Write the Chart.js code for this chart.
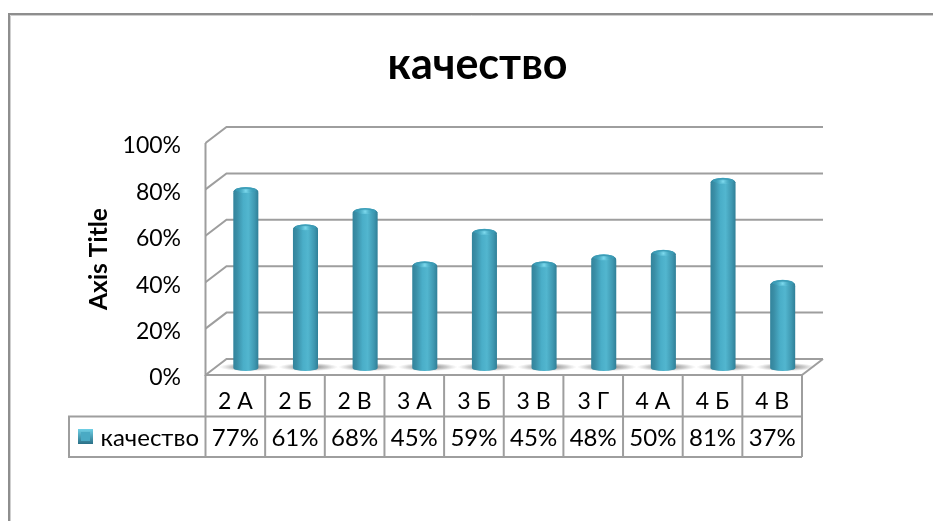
<!DOCTYPE html>
<html><head><meta charset="utf-8">
<style>html,body{margin:0;padding:0;background:#fff}canvas{display:block}</style>
<script src="https://cdn.jsdelivr.net/npm/chart.js@4/dist/chart.umd.js"></script>
</head><body>
<div style="width:933px;height:521px"><canvas id="c" width="933" height="521"></canvas></div>
<script>
const categories = ['2 А','2 Б','2 В','3 А','3 Б','3 В','3 Г','4 А','4 Б','4 В'];
const seriesName = 'качество';
const values = [77,61,68,45,59,45,48,50,81,37];
const chartTitle = 'качество';
const yAxisTitle = 'Axis Title';
const FONT = 'Lato, Carlito, Calibri, sans-serif';
const LINE = '#9e9e9e';
const DEPTH = {x:21, y:-16};
const BAR = {x:10.5, y:-7};

function barGradient(ctx, x, w){
  const g = ctx.createLinearGradient(x-w/2,0,x+w/2,0);
  g.addColorStop(0,'#33849c');
  g.addColorStop(0.15,'#3a8ea6');
  g.addColorStop(0.4,'#4aaec8');
  g.addColorStop(0.6,'#52b6cf');
  g.addColorStop(0.85,'#3f98b1');
  g.addColorStop(1,'#307f97');
  return g;
}
const scene = {
  id:'scene',
  beforeDraw(chart){
    const c = chart.ctx;
    c.save();
    c.strokeStyle='#8e8e8e'; c.lineWidth=2;
    c.beginPath(); c.moveTo(9,521); c.lineTo(9,14); c.lineTo(933,14); c.stroke();
    c.strokeStyle='#cfcfcf'; c.lineWidth=1;
    c.beginPath(); c.moveTo(10.5,521); c.lineTo(10.5,15.5); c.lineTo(933,15.5); c.stroke();
    c.restore();
  },
  beforeDatasetsDraw(chart){
    const c = chart.ctx, a = chart.chartArea, ys = chart.scales.y;
    c.save();
    c.strokeStyle=LINE; c.lineWidth=2; c.lineJoin='miter';
    ys.ticks.forEach(t=>{
      const y = ys.getPixelForValue(t.value);
      c.beginPath();
      c.moveTo(a.left,y); c.lineTo(a.left+DEPTH.x,y+DEPTH.y); c.lineTo(a.right+DEPTH.x,y+DEPTH.y);
      c.stroke();
    });
    c.beginPath();
    c.moveTo(a.left,a.top); c.lineTo(a.left,a.bottom);
    c.lineTo(a.right,a.bottom); c.lineTo(a.right+DEPTH.x,a.bottom+DEPTH.y);
    c.stroke();
    c.restore();
    c.save();
    c.translate(BAR.x,BAR.y);
    chart.getDatasetMeta(0).data.forEach(b=>{
      c.save();
      c.translate(b.x+3,b.base-1);
      c.scale(1,0.14);
      const r = 30;
      const g = c.createRadialGradient(0,0,6,0,0,r);
      g.addColorStop(0,'rgba(90,90,90,0.7)');
      g.addColorStop(0.55,'rgba(130,130,130,0.4)');
      g.addColorStop(1,'rgba(170,170,170,0)');
      c.fillStyle=g;
      c.beginPath(); c.arc(0,0,r,0,Math.PI*2); c.fill();
      c.restore();
    });
  },
  afterDatasetsDraw(chart){
    const c = chart.ctx;
    chart.getDatasetMeta(0).data.forEach(b=>{
      const w=b.width, x=b.x;
      c.fillStyle=barGradient(c,x,w);
      c.beginPath(); c.ellipse(x,b.base,w/2,3,0,0,Math.PI); c.fill();
      c.beginPath(); c.ellipse(x,b.y+3,w/2,5.3,0,Math.PI,0); c.fill();
      c.fillStyle='#3c9cb6';
      c.beginPath(); c.ellipse(x,b.y+0.5,w/2-2,2.6,0,0,Math.PI*2); c.fill();
      const g=c.createRadialGradient(x,b.y+1.5,0,x,b.y+1.5,8);
      g.addColorStop(0,'#7fdcf0'); g.addColorStop(1,'rgba(80,180,205,0)');
      c.fillStyle=g;
      c.beginPath(); c.ellipse(x,b.y+1.5,8,2.2,0,0,Math.PI*2); c.fill();
    });
    c.restore();
  },
  afterDraw(chart){
    const c = chart.ctx, a = chart.chartArea, xs = chart.scales.x;
    const step = (a.right-a.left)/categories.length;
    const rowTop=416.5, rowBot=457, legLeft=69;
    c.save();
    c.strokeStyle=LINE; c.lineWidth=2;
    for(let i=0;i<=categories.length;i++){
      const x=a.left+step*i;
      c.beginPath(); c.moveTo(x,a.bottom); c.lineTo(x,rowBot); c.stroke();
    }
    c.beginPath();
    c.moveTo(legLeft,rowTop); c.lineTo(a.right,rowTop);
    c.moveTo(legLeft,rowBot); c.lineTo(a.right,rowBot);
    c.moveTo(legLeft,rowTop-1); c.lineTo(legLeft,rowBot+1);
    c.stroke();
    c.fillStyle='#000'; c.font='24px '+FONT; c.textAlign='center'; c.textBaseline='middle';
    values.forEach((v,i)=>{ c.fillText(v+'%', xs.getPixelForValue(i), 438.5); });
    const kx=78,ky=429,ks=15;
    const g=c.createLinearGradient(kx,ky,kx,ky+ks);
    g.addColorStop(0,'#6fd0e6'); g.addColorStop(1,'#2a7087');
    c.fillStyle=g; c.fillRect(kx,ky,ks,ks);
    c.fillStyle='#4aaac4'; c.beginPath();
    c.moveTo(kx+3,ky+3); c.lineTo(kx+ks-3,ky+3); c.lineTo(kx+ks-3,ky+ks-3); c.lineTo(kx+3,ky+ks-3); c.closePath(); c.fill();
    c.fillStyle='#000'; c.textAlign='left';
    c.fillText(seriesName,100.5,438.5);
    c.restore();
  }
};
new Chart(document.getElementById('c'),{
  type:'bar',
  data:{labels:categories,datasets:[{label:seriesName,data:values,
    backgroundColor(ctx){
      const ch=ctx.chart;
      if(!ch.chartArea||ctx.dataIndex===undefined) return '#45a5bf';
      const x=ch.scales.x.getPixelForValue(ctx.dataIndex);
      return barGradient(ch.ctx,x,(ch.chartArea.right-ch.chartArea.left)/categories.length*0.42);
    },
    borderWidth:0,borderRadius:{topLeft:4,topRight:4,bottomLeft:0,bottomRight:0},borderSkipped:false,
    barPercentage:0.42,categoryPercentage:1}]},
  plugins:[scene],
  options:{
    responsive:false,animation:false,
    layout:{padding:{left:87,right:65,top:0,bottom:105}},
    plugins:{
      legend:{display:false},tooltip:{enabled:false},
      title:{display:true,text:chartTitle,color:'#000',font:{family:FONT,size:43,weight:'bold',lineHeight:1.2},
        padding:{top:39,bottom:52.4}}
    },
    scales:{
      x:{grid:{display:false,drawTicks:false},border:{display:false},
        ticks:{color:'#000',font:{family:FONT,size:23},padding:13,maxRotation:0,autoSkip:false},
        afterFit(s){s.height=41;}},
      y:{min:0,max:100,grid:{display:false,drawTicks:false},border:{display:false},
        ticks:{stepSize:20,color:'#000',font:{family:FONT,size:23,lineHeight:'6px'},padding:24.5,callback:v=>['',v+'%']},
        title:{display:true,text:yAxisTitle,color:'#000',font:{family:FONT,size:24.5,weight:'bold',lineHeight:1.0},padding:0},
        afterFit(s){s.width=118.5;}},
      r:{position:'right',min:0,max:100,grid:{display:false,drawTicks:false},border:{display:false},
        ticks:{display:false},afterFit(s){s.width=66;}}
    }
  }
});
</script>
</body></html>
